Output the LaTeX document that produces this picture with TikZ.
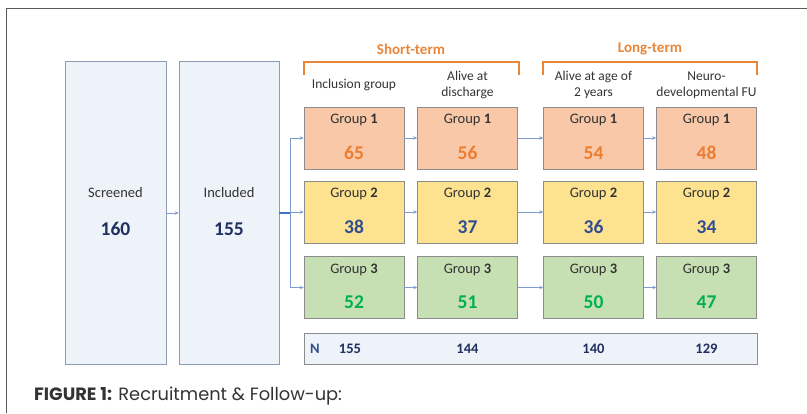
\documentclass[tikz,border=0pt]{standalone}
\usepackage{fontspec}
\setmainfont{Carlito}
\newfontfamily\capfont{Poppins}
\usetikzlibrary{arrows.meta}

\definecolor{framegray}{HTML}{5A5A5A}
\definecolor{paleblue}{HTML}{EEF2F9}
\definecolor{bluegray}{HTML}{8E9BB5}
\definecolor{boxgray}{HTML}{8C8C8C}
\definecolor{peach}{HTML}{F8C8A9}
\definecolor{sand}{HTML}{FDE290}
\definecolor{sage}{HTML}{C6E0B4}
\definecolor{numorange}{HTML}{ED7D31}
\definecolor{numblue}{HTML}{2F4D8F}
\definecolor{numgreen}{HTML}{00B050}
\definecolor{navy}{HTML}{1F2F5F}
\definecolor{arrowblue}{HTML}{7F9BCF}
\definecolor{linkblue}{HTML}{4472C4}
\definecolor{braceorange}{HTML}{E8863A}
\definecolor{textgray}{HTML}{333333}

\begin{document}
\begin{tikzpicture}[x=1pt,y=-1pt,
    >={Stealth[length=4pt,width=3.5pt]},
    tall/.style={draw=bluegray, fill=paleblue, minimum width=101pt, minimum height=303pt, inner sep=0pt},
    grp/.style={draw=boxgray, minimum width=100pt, minimum height=62pt, inner sep=0pt},
    hdr/.style={font=\fontsize{13.5}{16}\selectfont, text=textgray, align=center},
    gtxt/.style={font=\fontsize{14.5}{16}\selectfont, text=textgray},
    num/.style={font=\fontsize{19.5}{21}\selectfont\bfseries},
    tnum/.style={font=\fontsize{14.5}{16}\selectfont\bfseries, text=navy},
    link/.style={->, draw=arrowblue, line width=0.9pt},
    brace/.style={draw=braceorange, line width=1.6pt},
    phase/.style={font=\fontsize{15}{17}\selectfont\bfseries, text=braceorange}]
  \useasboundingbox (0,0) rectangle (807,413);
  % frame
  \draw[framegray, line width=0.8pt] (807,8) -- (6,8) -- (6,413);

  % recruitment
  \node[tall] (scr) at (115.5,212.5) {};
  \node[gtxt] (scrt) at (115.5,193) {Screened};
  \node[num, text=navy] (scrn) at (115.5,229) {160};
  \node[tall, minimum width=100pt] (inc) at (229,212.5) {};
  \node[gtxt] (inct) at (229,193) {Included};
  \node[num, text=navy] (incn) at (229,229) {155};
  \draw[link] (scr.east |- 0,213) -- (inc.west |- 0,213);

  % phases
  \node[phase] (short) at (411,49) {Short-term};
  \node[phase] (long) at (650,49) {Long-term};
  \draw[brace] (304,75) -- (304,62) -- (519,62) -- (519,75);
  \draw[brace] (543,75) -- (543,62) -- (757,62) -- (757,75);

  % column headers
  \node[hdr] (h1) at (354,85) {Inclusion group};
  \node[hdr] (h2) at (467.5,85) {Alive at\\discharge};
  \node[hdr] (h3) at (593.5,85) {Alive at age of\\2 years};
  \node[hdr] (h4) at (706.5,85) {Neuro-\\developmental FU};

  % group 1
  \node[grp, fill=peach] (g1a) at (354,138) {};
  \node[gtxt] (g1at) at (354,120) {Group \textbf{1}};
  \node[num, text=numorange] (g1an) at (354,153) {65};
  \node[grp, fill=peach] (g1b) at (467.5,138) {};
  \node[gtxt] (g1bt) at (467.5,120) {Group \textbf{1}};
  \node[num, text=numorange] (g1bn) at (467.5,153) {56};
  \node[grp, fill=peach] (g1c) at (593.5,138) {};
  \node[gtxt] (g1ct) at (593.5,120) {Group \textbf{1}};
  \node[num, text=numorange] (g1cn) at (593.5,153) {54};
  \node[grp, fill=peach] (g1d) at (706.5,138) {};
  \node[gtxt] (g1dt) at (706.5,120) {Group \textbf{1}};
  \node[num, text=numorange] (g1dn) at (706.5,153) {48};

  % group 2
  \node[grp, fill=sand] (g2a) at (354,212) {};
  \node[gtxt] (g2at) at (354,194) {Group \textbf{2}};
  \node[num, text=numblue] (g2an) at (354,227) {38};
  \node[grp, fill=sand] (g2b) at (467.5,212) {};
  \node[gtxt] (g2bt) at (467.5,194) {Group \textbf{2}};
  \node[num, text=numblue] (g2bn) at (467.5,227) {37};
  \node[grp, fill=sand] (g2c) at (593.5,212) {};
  \node[gtxt] (g2ct) at (593.5,194) {Group \textbf{2}};
  \node[num, text=numblue] (g2cn) at (593.5,227) {36};
  \node[grp, fill=sand] (g2d) at (706.5,212) {};
  \node[gtxt] (g2dt) at (706.5,194) {Group \textbf{2}};
  \node[num, text=numblue] (g2dn) at (706.5,227) {34};

  % group 3
  \node[grp, fill=sage] (g3a) at (354,287.5) {};
  \node[gtxt] (g3at) at (354,269.5) {Group \textbf{3}};
  \node[num, text=numgreen] (g3an) at (354,302.5) {52};
  \node[grp, fill=sage] (g3b) at (467.5,287.5) {};
  \node[gtxt] (g3bt) at (467.5,269.5) {Group \textbf{3}};
  \node[num, text=numgreen] (g3bn) at (467.5,302.5) {51};
  \node[grp, fill=sage] (g3c) at (593.5,287.5) {};
  \node[gtxt] (g3ct) at (593.5,269.5) {Group \textbf{3}};
  \node[num, text=numgreen] (g3cn) at (593.5,302.5) {50};
  \node[grp, fill=sage] (g3d) at (706.5,287.5) {};
  \node[gtxt] (g3dt) at (706.5,269.5) {Group \textbf{3}};
  \node[num, text=numgreen] (g3dn) at (706.5,302.5) {47};

  % totals
  \node[draw=boxgray, fill=paleblue, minimum width=453pt, minimum height=31pt, inner sep=0pt] (tot) at (530.5,348.5) {};
  \node[tnum, text=numblue] (totN) at (315,349) {N};
  \node[tnum] (tot1) at (350,349) {155};
  \node[tnum] (tot2) at (467.5,349) {144};
  \node[tnum] (tot3) at (593.5,349) {140};
  \node[tnum] (tot4) at (706.5,349) {129};

  % branching
  \coordinate (fork) at (290,213);
  \coordinate (fork1) at (290,138);
  \coordinate (fork3) at (290,287.5);
  \draw[linkblue, line width=1.2pt] (inc.east |- fork) -- (fork);
  \draw[arrowblue, line width=0.9pt] (fork1) -- (fork3);
  \draw[link] (fork1) -- (g1a);
  \draw[link] (fork |- g2a) -- (g2a);
  \draw[link] (fork3) -- (g3a);

  % follow-up
  \draw[link] (g1a) -- (g1b);
  \draw[link] (g1b) -- (g1c);
  \draw[link] (g1c) -- (g1d);
  \draw[link] (g2a) -- (g2b);
  \draw[link] (g2b) -- (g2c);
  \draw[link] (g2c) -- (g2d);
  \draw[link] (g3a) -- (g3b);
  \draw[link] (g3b) -- (g3c);
  \draw[link] (g3c) -- (g3d);

  % caption
  \node[anchor=west, font=\capfont\fontsize{17.8}{20}\selectfont, text=textgray, inner sep=0pt] (cap) at (34,396) {\textbf{FIGURE 1:} Recruitment \& Follow-up:};
\end{tikzpicture}
\end{document}
